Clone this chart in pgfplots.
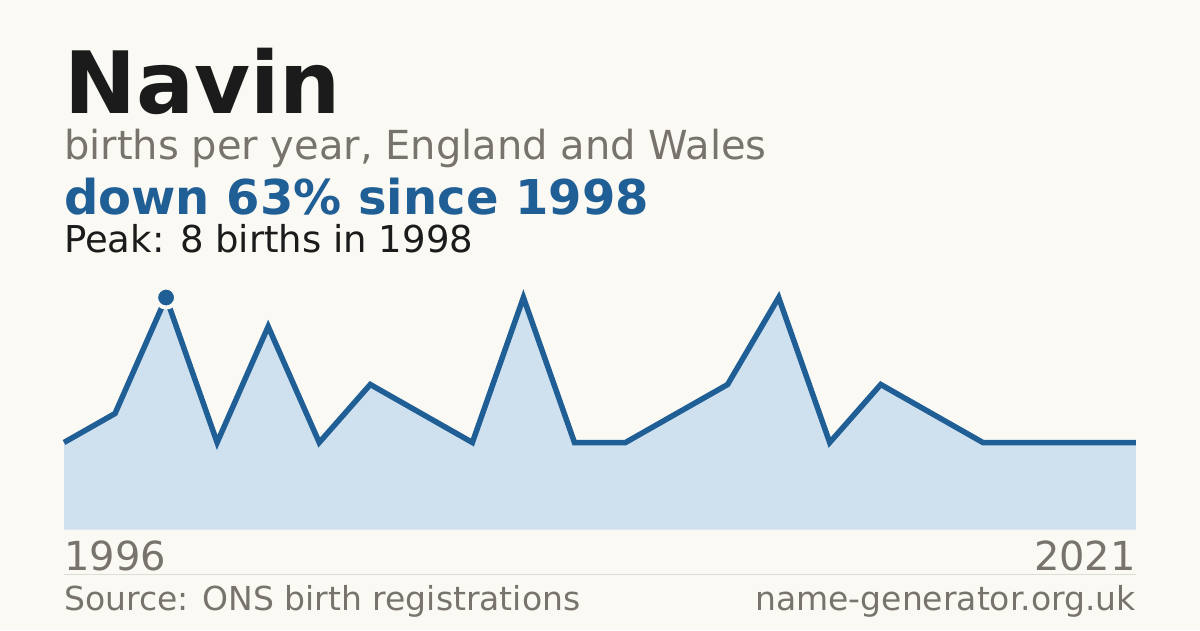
\documentclass[border=0pt]{standalone}
\usepackage{fontspec}
\setmainfont{DejaVu Sans}
\usepackage{pgfplots}
\pgfplotsset{compat=1.18}

\definecolor{bgc}{HTML}{FAF9F4}
\definecolor{inkc}{HTML}{1B1B1B}
\definecolor{greyc}{HTML}{78746D}
\definecolor{bluec}{HTML}{1F5F95}
\definecolor{fillc}{HTML}{CFE0EF}
\definecolor{rulec}{HTML}{DEDCD6}

% births per year, plotted by index (1996 ... 2021)
\pgfplotstableread{
idx births
0 3
1 4
2 8
3 3
4 7
5 3
6 5
7 4
8 3
9 8
10 3
11 3
12 4
13 5
14 8
15 3
16 5
17 4
18 3
19 3
20 3
21 3
}\births

\begin{document}
\begin{tikzpicture}[x=1pt,y=1pt]
  \fill[bgc] (0,0) rectangle (1200,630);

  \node[anchor=base west, inner sep=0, text=inkc, font=\fontsize{86}{86}\selectfont\bfseries] at (64,516.5) {Navin};
  \node[anchor=base west, inner sep=0, text=greyc, font=\fontsize{40}{40}\selectfont] at (64,470) {births per year, England and Wales};
  \node[anchor=base west, inner sep=0, text=bluec, font=\fontsize{48}{48}\selectfont\bfseries] at (64,415) {down 63\% since 1998};
  \node[anchor=base west, inner sep=0, text=inkc, font=\fontsize{37}{37}\selectfont] at (64,377) {Peak: 8 births in 1998};

  \begin{axis}[
      at={(64pt,100.5pt)}, anchor=south west,
      scale only axis,
      width=1072pt, height=232pt,
      xmin=0, xmax=21, ymin=0, ymax=8,
      hide axis, clip=false,
    ]
    \addplot[fill=fillc, draw=none] table[x=idx, y=births] {\births} \closedcycle;
    \addplot[bluec, line width=5.5pt, line join=miter, mark=none] table[x=idx, y=births] {\births};
    \addplot[only marks, mark=*, mark size=10pt,
      mark options={fill=bluec, draw=bgc, line width=4pt}] coordinates {(2,8)};
  \end{axis}

  \node[anchor=base west, inner sep=0, text=greyc, font=\fontsize{40}{40}\selectfont] at (64,60) {1996};
  \node[anchor=base east, inner sep=0, text=greyc, font=\fontsize{40}{40}\selectfont] at (1136,60) {2021};
  \draw[rulec, line width=1pt] (64,55.5) -- (1136,55.5);
  \node[anchor=base west, inner sep=0, text=greyc, font=\fontsize{33}{33}\selectfont] at (64,20) {Source: ONS birth registrations};
  \node[anchor=base east, inner sep=0, text=greyc, font=\fontsize{33}{33}\selectfont] at (1136,20) {name-generator.org.uk};
\end{tikzpicture}
\end{document}
